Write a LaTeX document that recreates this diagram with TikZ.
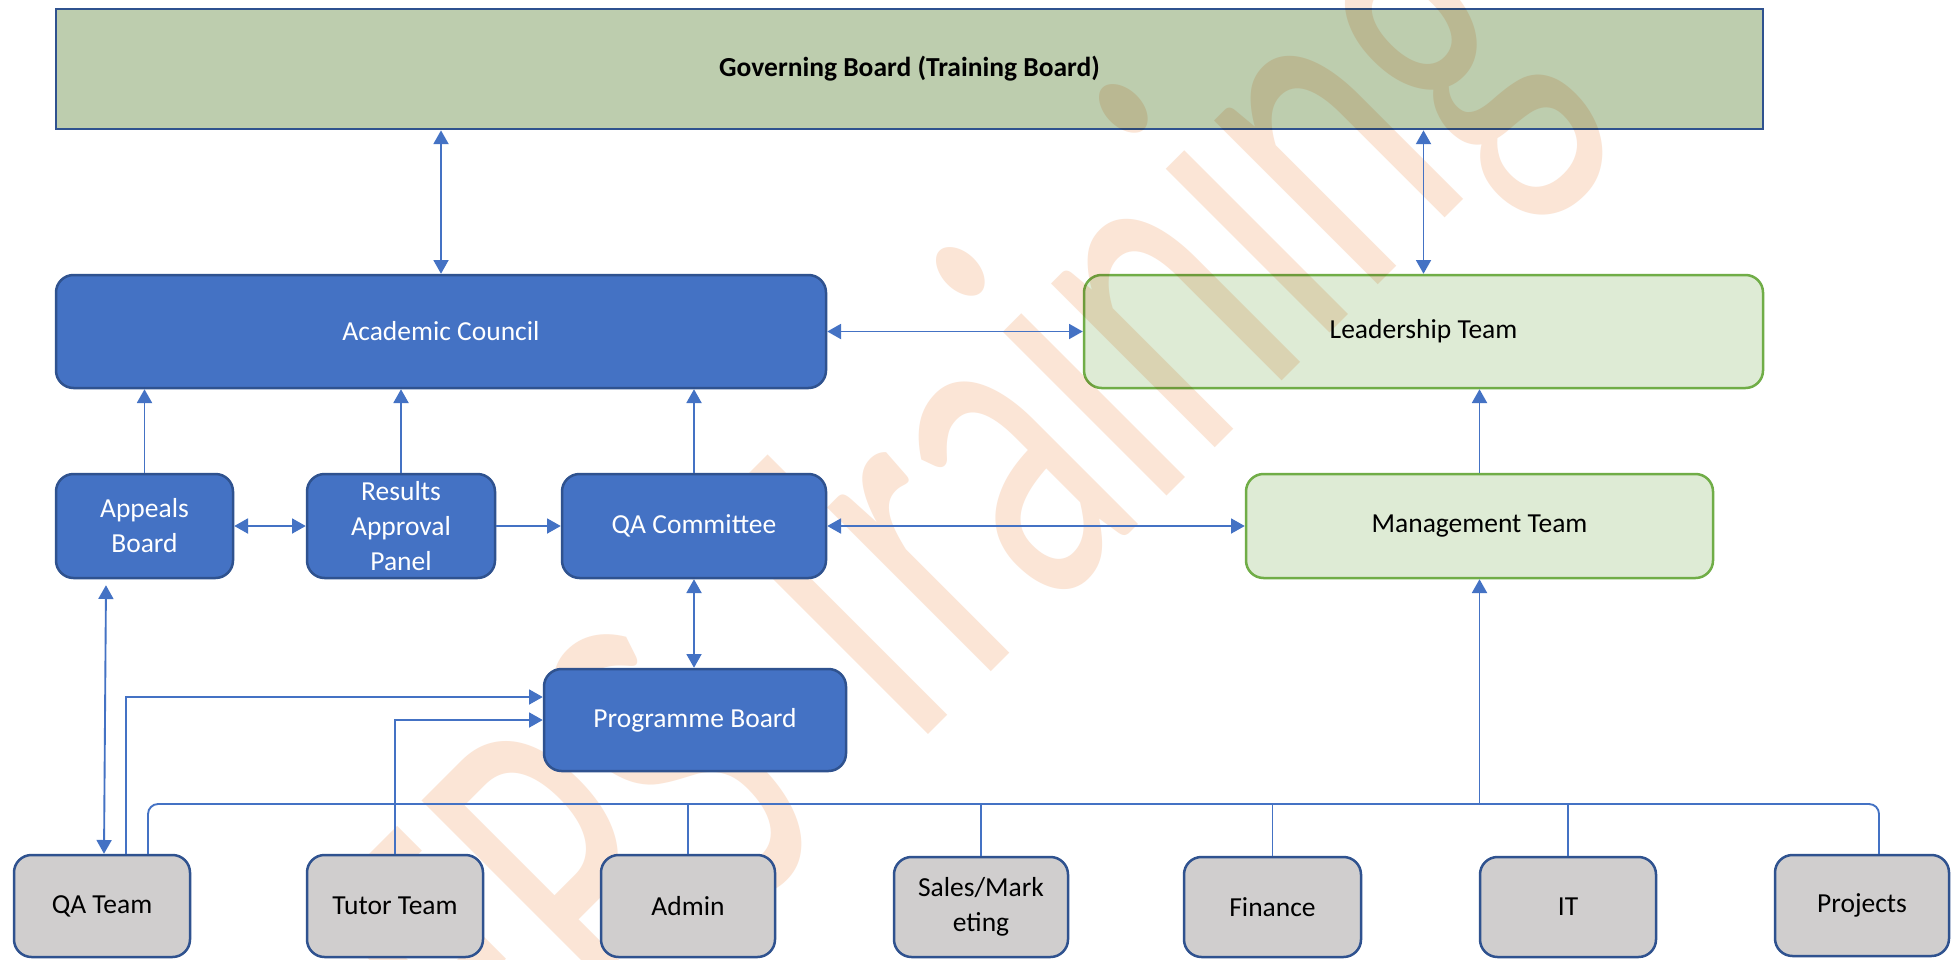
\documentclass[tikz,border=0pt]{standalone}
\usepackage{fontspec}
\setmainfont{Carlito}
\usetikzlibrary{arrows.meta}
\definecolor{lineblue}{RGB}{68,114,196}
\definecolor{darkblue}{RGB}{47,82,143}
\definecolor{boxblue}{RGB}{68,114,196}
\definecolor{gbfill}{RGB}{189,205,174}
\definecolor{ltfill}{RGB}{222,235,213}
\definecolor{ltborder}{RGB}{112,173,71}
\definecolor{grayfill}{RGB}{208,206,206}
\definecolor{wmark}{RGB}{251,229,214}
\tikzset{
  sz/.style 2 args={minimum width=#1*0.4pt, minimum height=#2*0.4pt},
  basebox/.style={rectangle, rounded corners=7pt, inner sep=1pt, align=center,
    font=\fontsize{11}{14}\selectfont},
  bluebox/.style={basebox, fill=boxblue, draw=darkblue, line width=1pt, text=white},
  greenbox/.style={basebox, fill=ltfill, draw=ltborder, line width=1pt, text=black},
  graybox/.style={basebox, fill=grayfill, draw=darkblue, line width=1pt, text=black},
  topbox/.style={rectangle, inner sep=1pt, fill=gbfill, draw=darkblue, line width=1.1pt,
    font=\fontsize{11}{14}\selectfont\bfseries},
  conn/.style={draw=lineblue, line width=0.75pt},
  arr/.style={conn, -{Triangle[length=5.5pt,width=6pt]}},
  darr/.style={conn, {Triangle[length=5.5pt,width=6pt]}-{Triangle[length=5.5pt,width=6pt]}},
  wmtext/.style={anchor=base west, inner sep=0pt, outer sep=0pt, rotate=45, text=wmark,
    font=\fontsize{122}{124}\selectfont}
}
\begin{document}
\begin{tikzpicture}[x=0.4pt,y=-0.4pt]
\fill[white] (0,0) rectangle (1951,959);
\useasboundingbox (0,0) rectangle (1951,959);

% boxes lying under the watermark
\node[topbox, sz={1707}{120}] (gb) at (909.5,69) {Governing Board (Training Board)};
\node[greenbox, sz={679}{113}] (lt) at (1423.5,331.5) {Leadership Team};
\node[greenbox, sz={467}{104}] (mt) at (1479.5,526) {Management Team};

% watermark
\begin{scope}[blend mode=multiply]
\clip (0,0) rectangle (1951,959);
\node[wmtext] (wm) at (521,1142) {\scalebox{1}[1.59]{EPS Training}};
\end{scope}

% boxes above the watermark
\node[bluebox, sz={770}{113}] (ac) at (441,331.5) {Academic Council};
\node[bluebox, sz={177}{104}] (ab) at (144.5,526) {Appeals\\Board};
\node[bluebox, sz={188}{104}] (rap) at (401,526) {Results\\Approval\\Panel};
\node[bluebox, sz={264}{104}] (qac) at (694,526) {QA Committee};
\node[bluebox, sz={302}{102}] (pb) at (695,720) {Programme Board};
\node[graybox, sz={176}{102}] (qat) at (102,906) {QA Team};
\node[graybox, sz={176}{102}] (tut) at (395,906) {Tutor Team};
\node[graybox, sz={174}{102}] (adm) at (688,906) {Admin};
\node[graybox, sz={174}{100}] (sal) at (981,907) {Sales/Mark\\eting};
\node[graybox, sz={177}{100}] (fin) at (1272.5,907) {Finance};
\node[graybox, sz={176}{100}] (it) at (1568,907) {IT};
\node[graybox, sz={174}{101}] (prj) at (1862,905.5) {Projects};

% connectors
\draw[darr] (ac.north |- gb.south) -- (ac.north);
\draw[darr] (lt.north |- gb.south) -- (lt.north);
\draw[darr] (ac.east) -- (lt.west);
\draw[arr] (ab.north) -- (ab.north |- ac.south);
\draw[arr] (rap.north) -- (rap.north |- ac.south);
\draw[arr] (qac.north) -- (qac.north |- ac.south);
\draw[darr] (ab.east) -- (rap.west);
\draw[arr] (rap.east) -- (qac.west);
\draw[darr] (qac.east) -- (mt.west);
\draw[darr] (qac.south) -- (qac.south |- pb.north);
\draw[arr] (mt.north) -- (mt.north |- lt.south);
\draw[darr] ([xshift=-15.4pt,yshift=-2.4pt]ab.south) -- ([xshift=0.8pt]qat.north);
\draw[arr] ([xshift=9.6pt]qat.north) |- ([yshift=9.2pt]pb.west);
\draw[arr] (tut.north) |- (pb.west);

% bus to management team
\coordinate (bus) at (1479.5,804);
\draw[arr] (bus) -- (mt.south);
\draw[conn, rounded corners=4pt] ([xshift=18.4pt]qat.north) |- (bus);
\draw[conn] (adm.north) |- (bus);
\draw[conn] (sal.north) |- (bus);
\draw[conn] (fin.north) |- (bus);
\draw[conn] (it.north) |- (bus);
\draw[conn, rounded corners=4pt] ([xshift=6.8pt]prj.north) |- (bus);
\end{tikzpicture}
\end{document}
